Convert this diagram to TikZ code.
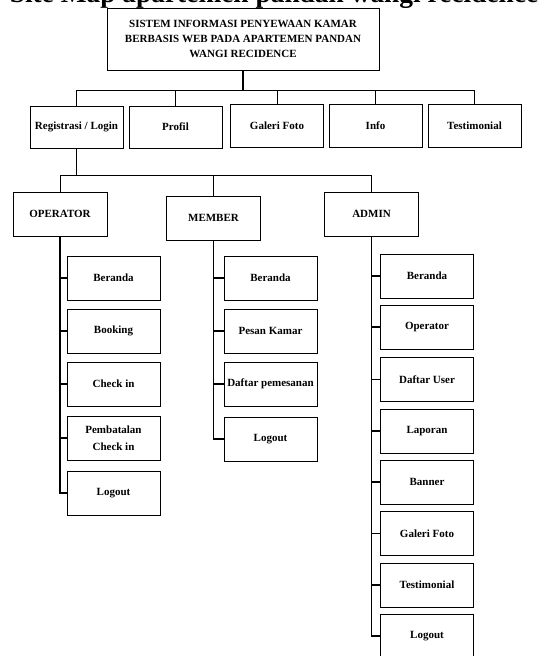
\documentclass[tikz,border=0pt]{standalone}
\usepackage{fontspec}
\setmainfont{Liberation Serif}

\begin{document}
\begin{tikzpicture}[x=1pt, y=-1pt,
    menu/.style ={draw, line width=0.8pt, rectangle, inner sep=0pt, align=center,
      minimum width=93pt, minimum height=44pt, font=\fontsize{11}{15}\selectfont\bfseries},
    link/.style ={line width=0.6pt},
    spine/.style ={line width=1.1pt}]
   \useasboundingbox (0,0) rectangle (556,656);

   \node[anchor=base, font=\fontsize{27.4}{30}\selectfont\bfseries] (title) at (274,2.5)
      {Site Map apartemen pandan wangi recidence};

   \node[menu, minimum width=272pt, minimum height=62pt] (sistem) at (243,39)
      {SISTEM INFORMASI PENYEWAAN KAMAR\\BERBASIS WEB PADA APARTEMEN PANDAN\\WANGI RECIDENCE};

   % menu utama
   \node[menu, minimum height=42pt] (registrasi) at (76.5,127)   {Registrasi / Login};
   \node[menu, minimum height=42pt] (profil)     at (175.5,127)  {Profil};
   \node[menu, minimum height=43pt] (galeri)     at (277,125.5)  {Galeri Foto};
   \node[menu, minimum height=43pt] (info)       at (375.5,125.5) {Info};
   \node[menu, minimum height=43pt] (testi)      at (474.5,125.5) {Testimonial};

   \coordinate (bussistem) at (243,90);
   \draw[spine] (sistem) -- (bussistem);
   \draw[link] (bussistem) -| (registrasi.north);
   \draw[link] (bussistem) -| (profil.north);
   \draw[link] (bussistem) -| (galeri.north);
   \draw[link] (bussistem) -| (info.north);
   \draw[link] (bussistem) -| (testi.north);

   % pengguna
   \node[menu, minimum width=94pt] (operator) at (60,214)    {OPERATOR};
   \node[menu, minimum width=94pt] (member)   at (213.5,218) {MEMBER};
   \node[menu, minimum width=94pt] (admin)    at (371.5,214) {ADMIN};

   \coordinate (buslogin) at (76.5,175);
   \draw[link] (registrasi) -- (buslogin);
   \draw[link] (buslogin) -| (operator.north);
   \draw[link] (buslogin) -| (member.north);
   \draw[link] (buslogin) -| (admin.north);

   % operator
   \node[menu] (opberanda) at (113.5,278) {Beranda};
   \node[menu] (opbooking) at (113.5,331) {Booking};
   \node[menu] (opcheckin) at (113.5,384) {Check in};
   \node[menu, font=\fontsize{11}{17}\selectfont\bfseries] (opbatal) at (113.5,438) {Pembatalan\\Check in};
   \node[menu] (oplogout)  at (113.5,493) {Logout};

   \draw[spine] (operator.south) |- (opberanda.west);
   \draw[spine] (operator.south) |- (opbooking.west);
   \draw[spine] (operator.south) |- (opcheckin.west);
   \draw[spine] (operator.south) |- (opbatal.west);
   \draw[spine] (operator.south) |- (oplogout.west);

   % member
   \node[menu] (mbberanda) at (270.5,278) {Beranda};
   \node[menu] (mbpesan)   at (270.5,331) {Pesan Kamar};
   \node[menu] (mbdaftar)  at (270.5,384) {Daftar pemesanan};
   \node[menu] (mblogout)  at (270.5,439) {Logout};

   \draw[spine] (member.south) |- (mbberanda.west);
   \draw[spine] (member.south) |- (mbpesan.west);
   \draw[spine] (member.south) |- (mbdaftar.west);
   \draw[spine] (member.south) |- (mblogout.west);

   % admin
   \node[menu] (adberanda)  at (427,276)   {Beranda};
   \node[menu] (adoperator) at (427,327)   {Operator};
   \node[menu] (aduser)     at (427,379.5) {Daftar User};
   \node[menu] (adlaporan)  at (427,431)   {Laporan};
   \node[menu] (adbanner)   at (427,482)   {Banner};
   \node[menu] (adgaleri)   at (427,533.5) {Galeri Foto};
   \node[menu] (adtesti)    at (427,585)   {Testimonial};
   \node[menu] (adlogout)   at (427,636)   {Logout};

   \draw[spine] (admin.south) |- (adberanda.west);
   \draw[spine] (admin.south) |- (adoperator.west);
   \draw[spine] (admin.south) |- (aduser.west);
   \draw[spine] (admin.south) |- (adlaporan.west);
   \draw[spine] (admin.south) |- (adbanner.west);
   \draw[spine] (admin.south) |- (adgaleri.west);
   \draw[spine] (admin.south) |- (adtesti.west);
   \draw[spine] (admin.south) |- (adlogout.west);

 \end{tikzpicture}
\end{document}
